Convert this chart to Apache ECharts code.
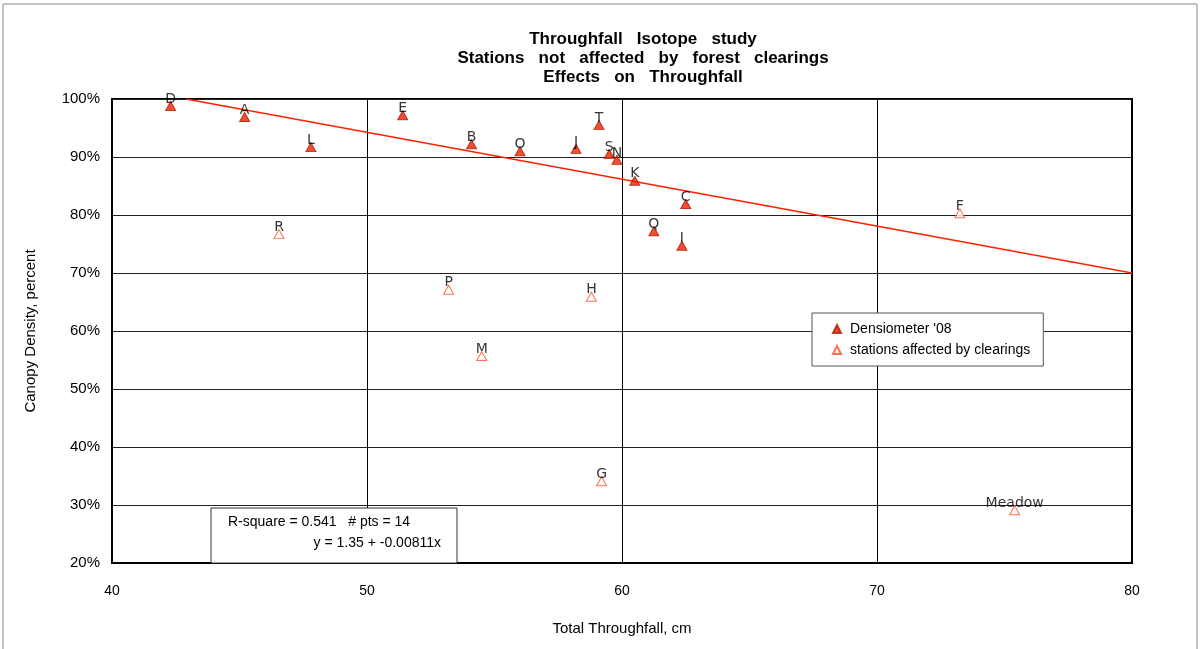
<!DOCTYPE html>
<html>
<head>
<meta charset="utf-8">
<script src="https://cdn.jsdelivr.net/npm/echarts@6/dist/echarts.min.js"></script>
<style>
html,body{margin:0;padding:0;background:#fff;}
#chart{width:1203px;height:649px;}
</style>
</head>
<body>
<div id="chart"></div>
<script>
// Stations not affected by clearings (Densiometer '08)
const densNames = ['D','A','L','E','B','O','J','T','S','N','K','C','Q','I'];
const densX = [42.3, 45.2, 47.8, 51.4, 54.1, 56.0, 58.2, 59.1, 59.5, 59.8, 60.5, 62.5, 61.25, 62.35];
const densY = [98.8, 96.9, 91.7, 97.2, 92.2, 91.0, 91.4, 95.5, 90.5, 89.5, 85.9, 81.9, 77.2, 74.7];
// Stations affected by clearings
const clrNames = ['R','P','H','M','G','F','Meadow'];
const clrX = [46.55, 53.2, 58.8, 54.5, 59.2, 73.25, 75.4];
const clrY = [76.7, 67.1, 65.9, 55.7, 34.1, 80.3, 29.1];
// Trend line endpoints
const trendX = [42.9, 80];
const trendY = [100, 70.0];
const xTicks = [40, 50, 60, 70, 80];
const yTicks = [20, 30, 40, 50, 60, 70, 80, 90, 100];

const chart = echarts.init(document.getElementById('chart'));
const lblStyle = {show:true, position:'top', distance:-5, color:'#000', fontSize:14, fontFamily:'DejaVu Sans', formatter:p=>p.data[2]};
const option = {
  animation:false,
  backgroundColor:'#fff',
  title:{
    text:'Throughfall   Isotope   study\nStations   not   affected   by   forest   clearings\nEffects   on   Throughfall',
    left:638, top:25, textAlign:'center',
    textStyle:{fontFamily:'Liberation Sans Narrow, Arial Narrow, Liberation Sans', fontWeight:'bold', fontSize:17, lineHeight:19, color:'#000'}
  },
  grid:{left:112, top:99, right:71, bottom:86, show:true, borderColor:'#000', borderWidth:2},
  legend:{
    orient:'vertical', left:812, top:313, width:200,
    padding:[9,13,9,20], itemGap:7, itemWidth:8, itemHeight:8,
    backgroundColor:'#fff', borderColor:'#555', borderWidth:1,
    textStyle:{fontFamily:'Liberation Sans', fontSize:14, color:'#000', padding:[0,0,0,4]},
    data:['Densiometer \'08','stations affected by clearings']
  },
  xAxis:{
    type:'value', min:40, max:80, interval:10,
    name:'Total Throughfall, cm', nameLocation:'middle', nameGap:58,
    nameTextStyle:{fontFamily:'Liberation Sans', fontSize:15, color:'#000'},
    axisLine:{lineStyle:{color:'#000', width:2}}, axisTick:{show:false},
    axisLabel:{fontFamily:'Liberation Sans', fontSize:14, color:'#000', margin:21},
    splitLine:{show:true, lineStyle:{color:'#000', width:1}}
  },
  yAxis:{
    type:'value', min:20, max:100, interval:10,
    name:'Canopy Density, percent', nameLocation:'middle', nameGap:74,
    nameTextStyle:{fontFamily:'Liberation Sans', fontSize:15, color:'#000'},
    axisLine:{lineStyle:{color:'#000', width:2}}, axisTick:{show:false},
    axisLabel:{fontFamily:'Liberation Sans', fontSize:15, color:'#000', margin:12, formatter:'{value}%'},
    splitLine:{show:true, lineStyle:{color:'#222', width:1}}
  },
  series:[
    {
      name:'Densiometer \'08', type:'scatter', symbol:'triangle', symbolSize:[10,9],
      itemStyle:{color:'#ee2200', borderColor:'#b01800', borderWidth:1},
      label:lblStyle,
      data:densX.map((x,i)=>[x, densY[i], densNames[i]]), z:5
    },
    {
      name:'stations affected by clearings', type:'scatter', symbol:'triangle', symbolSize:[10,9],
      itemStyle:{color:'#fff', borderColor:'#ff4a2a', borderWidth:1},
      label:lblStyle,
      data:clrX.map((x,i)=>[x, clrY[i], clrNames[i]]), z:5
    },
    {
      name:'trend', type:'line', symbol:'none', silent:true,
      lineStyle:{color:'#ff2200', width:1.5},
      data:trendX.map((x,i)=>[x, trendY[i]]), z:4
    }
  ],
  graphic:[
    {type:'rect', shape:{x:3, y:4, width:1194, height:660}, style:{fill:'none', stroke:'#888', lineWidth:1}, silent:true},
    {type:'rect', shape:{x:211, y:508, width:246, height:55}, style:{fill:'#fff', stroke:'#333', lineWidth:1}, z:10},
    {type:'text', left:228, top:515, z:11, style:{text:'R-square = 0.541   # pts = 14', font:'14px "Liberation Sans"', fill:'#000'}},
    {type:'text', right:1203-441, top:536, z:11, style:{text:'y = 1.35 + -0.00811x', font:'14px "Liberation Sans"', fill:'#000', textAlign:'right'}}
  ]
};
chart.setOption(option);
</script>
</body>
</html>
